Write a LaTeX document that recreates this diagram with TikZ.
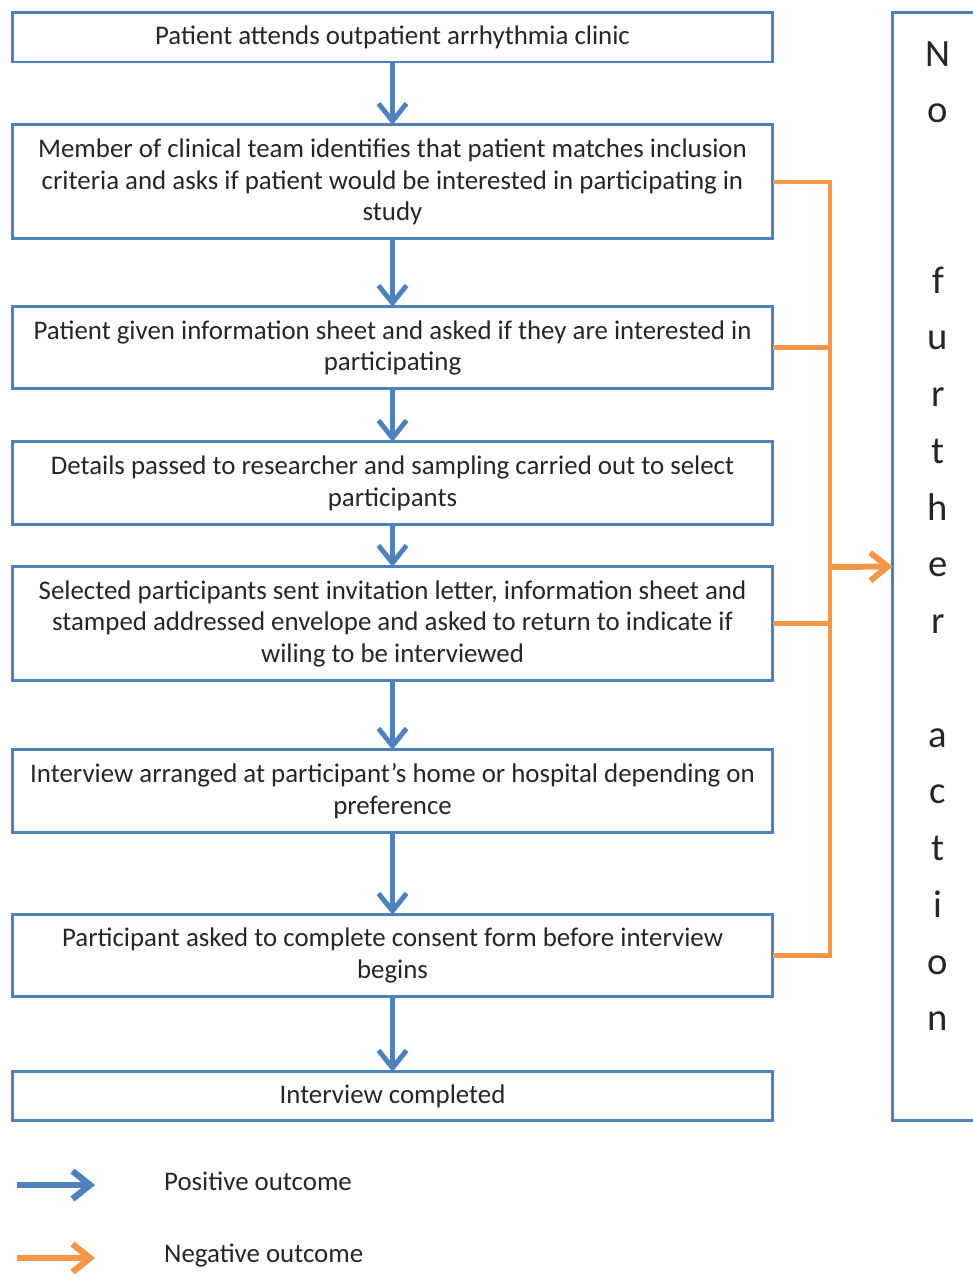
\documentclass[tikz,border=0pt]{standalone}
\usepackage{fontspec}
\setmainfont{Carlito}
\usetikzlibrary{arrows.meta, positioning}
\definecolor{boxblue}{RGB}{79,129,189}
\definecolor{negorange}{RGB}{247,150,70}

\begin{document}
\begin{tikzpicture}[
  x=0.02cm, y=-0.02cm,
  every node/.style={align=center, text=black!85, font=\fontsize{15.3}{18.1}\selectfont},
  stepbox/.style={draw=boxblue, line width=1.7pt, minimum width=15.22cm, inner sep=2pt, outer sep=0pt},
  posarrow/.style={draw=boxblue, line width=2.8pt, -{Straight Barb[length=3.5mm, width=5.6mm]}},
  negline/.style={draw=negorange, line width=2.8pt},
  negarrow/.style={negline, -{Straight Barb[length=3.5mm, width=5.6mm]}}
]
\useasboundingbox (0,0) rectangle (973,1278);

% Steps
\node[stepbox, minimum height=1cm] (attend) at (392.5,37) {Patient attends outpatient arrhythmia clinic};
\node[stepbox, minimum height=2.28cm, below=1.26cm of attend] (identify) {Member of clinical team identifies that patient matches inclusion\\criteria and asks if patient would be interested in participating in\\study};
\node[stepbox, minimum height=1.64cm, below=1.36cm of identify] (interest) {Patient given information sheet and asked if they are interested in\\participating};
\node[stepbox, minimum height=1.66cm, below=1.06cm of interest] (sampling) {Details passed to researcher and sampling carried out to select\\participants};
\node[stepbox, minimum height=2.28cm, below=0.84cm of sampling] (invite) {Selected participants sent invitation letter, information sheet and\\stamped addressed envelope and asked to return to indicate if\\wiling to be interviewed};
\node[stepbox, minimum height=1.66cm, below=1.38cm of invite] (arrange) {Interview arranged at participant’s home or hospital depending on\\preference};
\node[stepbox, minimum height=1.64cm, below=1.64cm of arrange] (consent) {Participant asked to complete consent form before interview\\begins};
\node[stepbox, minimum height=0.98cm, below=1.5cm of consent] (done) {Interview completed};

% No further action
\node[draw=boxblue, line width=1.7pt, outer sep=0pt, minimum width=1.66cm, minimum height=22.18cm] (noaction) at (934,566.5) {};
\node[font=\fontsize{22}{32.3}\selectfont] (noactiontext) at (938,536) {N\\o\\ \\ \\f\\u\\r\\t\\h\\e\\r\\ \\a\\c\\t\\i\\o\\n};

% Positive arrows
\draw[posarrow] (attend) -- (identify);
\draw[posarrow] (identify) -- (interest);
\draw[posarrow] (interest) -- (sampling);
\draw[posarrow] (sampling) -- (invite);
\draw[posarrow] (invite) -- (arrange);
\draw[posarrow] (arrange) -- (consent);
\draw[posarrow] (consent) -- (done);

% Negative arrows
\coordinate (rail) at (830,567);
\draw[negline] (identify.east) -- (identify.east -| rail) -- (consent.east -| rail) -- (consent.east);
\draw[negline] (interest.east) -- (interest.east -| rail);
\draw[negline] (invite.east) -- (invite.east -| rail);
\draw[negarrow, line width=3.4pt] (rail) -- (noaction.west);

% Legend
\coordinate (posstart) at (17,1185);
\coordinate (posend) at (95,1185);
\coordinate (negstart) at (17,1258);
\coordinate (negend) at (95,1258);
\draw[posarrow, line width=3.6pt] (posstart) -- (posend);
\draw[negarrow, line width=3.6pt] (negstart) -- (negend);
\node[anchor=west] (poslabel) at (158,1181) {Positive outcome};
\node[anchor=west] (neglabel) at (158,1256) {Negative outcome};

\end{tikzpicture}
\end{document}
